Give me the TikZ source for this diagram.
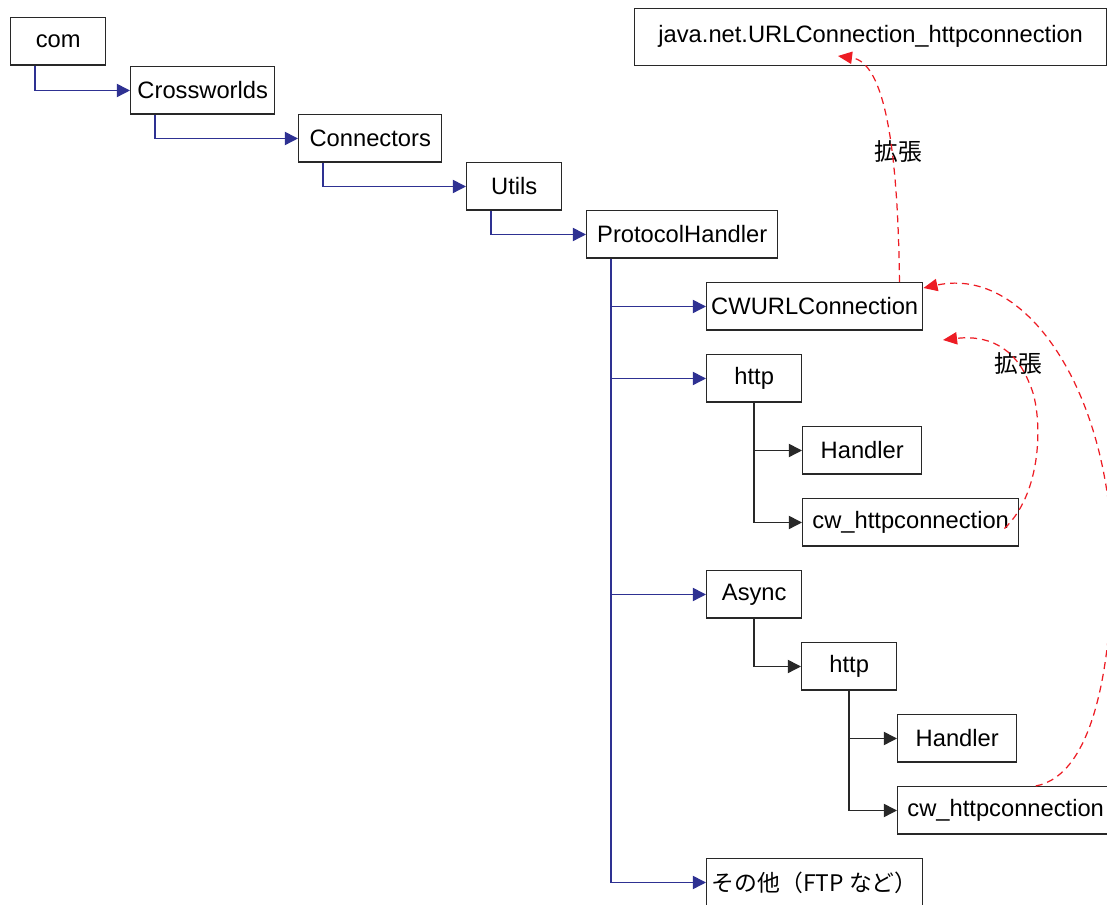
\documentclass[tikz,border=0pt]{standalone}
\usepackage{fontspec}
\setmainfont{Liberation Sans}
\newfontfamily\jafont{Noto Sans CJK JP}
\usetikzlibrary{arrows.meta}

\definecolor{azul}{RGB}{46,49,146}
\definecolor{rojo}{RGB}{237,28,36}
\definecolor{borde}{RGB}{40,40,40}

\tikzset{
    caja/.style={draw=borde,line width=0.85pt,minimum height=0.95cm,anchor=north west,
        inner sep=0pt,font=\fontsize{13.5}{16}\selectfont},
    rama/.style={azul,line width=0.85pt,-{Triangle[length=7.5pt,width=7.5pt]}},
    ramanegra/.style={borde,line width=0.85pt,-{Triangle[length=7.5pt,width=7.5pt]}},
    extiende/.style={rojo,line width=0.7pt,dash pattern=on 4pt off 2.8pt,
        -{Triangle[length=8pt,width=7pt]}},
    etiqueta/.style={font=\fontsize{13.5}{16}\selectfont\jafont,inner sep=1pt}
}

\begin{document}
\begin{tikzpicture}[x=0.02cm,y=-0.02cm]

    \def\sangria{0.5cm}%Desfase linea paquete
    \def\sangrib{0.96cm}%Desfase linea subpaquete

    \useasboundingbox (0,0) rectangle (1107,905);
    \clip (0,0) rectangle (1107,905);

    %Paquetes
    \node[caja,minimum width=1.9cm] (com) at (10,17) {com};
    \node[caja,minimum width=2.88cm] (cross) at (130,66) {Crossworlds};
    \node[caja,minimum width=2.86cm] (conn) at (298,114) {Connectors};
    \node[caja,minimum width=1.9cm] (utils) at (466,162) {Utils};
    \node[caja,minimum width=3.82cm] (ph) at (586,210) {ProtocolHandler};
    \node[caja,minimum width=4.32cm] (cwurl) at (706,282) {CWURLConnection};
    \node[caja,minimum width=1.9cm] (http) at (706,354) {http};
    \node[caja,minimum width=2.38cm] (hand) at (802,426) {Handler};
    \node[caja,minimum width=4.32cm] (cw) at (802,498) {cw\_httpconnection};
    \node[caja,minimum width=1.9cm] (async) at (706,570) {Async};
    \node[caja,minimum width=1.9cm] (httpb) at (801,642) {http};
    \node[caja,minimum width=2.38cm] (handb) at (897,714) {Handler};
    \node[caja,minimum width=4.32cm] (cwb) at (897,786) {cw\_httpconnection};
    \node[caja,minimum width=4.32cm,font=\fontsize{13}{16}\selectfont\jafont] (otros) at (706,858) {その他（FTP など）};
    \node[caja,minimum width=9.44cm,minimum height=1.14cm,text depth=0.12cm] (java) at (634,8) {java.net.URLConnection\_httpconnection};

    %Cadena de paquetes
    \draw[rama] ([xshift=\sangria]com.south west) |- (cross.west);
    \draw[rama] ([xshift=\sangria]cross.south west) |- (conn.west);
    \draw[rama] ([xshift=\sangria]conn.south west) |- (utils.west);
    \draw[rama] ([xshift=\sangria]utils.south west) |- (ph.west);
    \foreach \h in {cwurl,http,async,otros}
        \draw[rama] ([xshift=\sangria]ph.south west) |- (\h.west);

    %Subpaquetes
    \foreach \h in {hand,cw}
        \draw[ramanegra] ([xshift=\sangrib]http.south west) |- (\h.west);
    \draw[ramanegra] ([xshift=\sangrib]async.south west) |- (httpb.west);
    \foreach \h in {handb,cwb}
        \draw[ramanegra] ([xshift=\sangrib]httpb.south west) |- (\h.west);

    %Herencia
    \coordinate (jv) at (838,56);
    \coordinate (cwa) at (943,340);
    \node[etiqueta] (ext1) at (898,152) {拡張};
    \node[etiqueta] (ext2) at (1018,364) {拡張};
    \draw[extiende] ([xshift=-0.48cm]cwurl.north east) .. controls (898,150) and (885,62) .. (jv);
    \draw[extiende] ([xshift=-0.3cm,yshift=-0.12cm]cw.east) .. controls (1045,490) and (1042,410) .. (1030,385)
        .. controls (1015,345) and (985,335) .. (cwa);
    \draw[extiende] ([xshift=0.6cm]cwb.north) .. controls (1095,775) and (1112,660) .. (1112,560)
        .. controls (1112,400) and (1030,265) .. ([yshift=-0.12cm]cwurl.north east);

\end{tikzpicture}
\end{document}
